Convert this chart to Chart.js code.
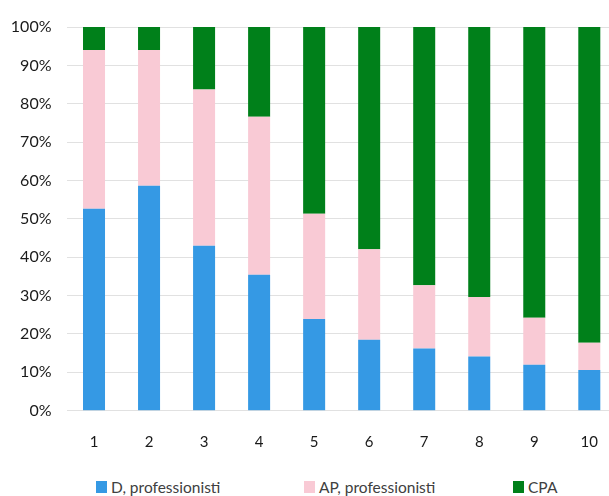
<!DOCTYPE html>
<html>
<head>
<meta charset="utf-8">
<script src="https://cdn.jsdelivr.net/npm/chart.js@4/dist/chart.umd.min.js"></script>
<style>
  html, body { margin: 0; padding: 0; background: #fff; overflow: hidden; width: 609px; height: 496px; }
  #wrap { position: relative; width: 609px; height: 496px; overflow: hidden; }
  #c { position: absolute; left: 0; top: 0; }
  #legend { position: absolute; top: 478px; left: 96px; font-family: Lato, "Open Sans", sans-serif; font-size: 15.5px; color: #404040; white-space: nowrap; }
  #legend span.item { position: absolute; top: 0; display: flex; align-items: center; }
  #legend i { display: inline-block; width: 11px; height: 12px; margin-right: 4px; }
</style>
</head>
<body>
<div id="wrap">
  <canvas id="c" width="620" height="470"></canvas>
  <div id="legend"></div>
</div>
<script>
// Categories along the x axis
const categories = ['1', '2', '3', '4', '5', '6', '7', '8', '9', '10'];

// Shares per category (percent)
const dProfessionisti  = [52.6, 58.6, 43.0, 35.4, 23.9, 18.5, 16.2, 14.1, 12.0, 10.6];
const apProfessionisti = [41.4, 35.4, 40.7, 41.2, 27.4, 23.6, 16.5, 15.5, 12.2, 7.1];
const cpa              = [6.0, 6.0, 16.3, 23.4, 48.7, 57.9, 67.3, 70.4, 75.8, 82.3];

const seriesNames = ['D, professionisti', 'AP, professionisti', 'CPA'];
const seriesColors = ['#3599e4', '#f9cad5', '#00801a'];

const yTicks = [0, 10, 20, 30, 40, 50, 60, 70, 80, 90, 100];

const datasets = [dProfessionisti, apProfessionisti, cpa].map((vals, i) => ({
  label: seriesNames[i],
  data: vals,
  backgroundColor: seriesColors[i],
  borderWidth: 0,
  barPercentage: 0.4,
  categoryPercentage: 1.0
}));

new Chart(document.getElementById('c'), {
  type: 'bar',
  data: { labels: categories, datasets },
  options: {
    responsive: false,
    animation: false,
    devicePixelRatio: 1,
    layout: { padding: { top: 27, left: 0, right: 0, bottom: 0 } },
    plugins: { legend: { display: false }, tooltip: { enabled: false } },
    scales: {
      x: {
        stacked: true,
        grid: { display: false, drawTicks: false },
        border: { display: false },
        ticks: {
          color: '#1a1a1a',
          padding: 22,
          font: { family: 'Lato, "Open Sans", sans-serif', size: 15 }
        },
        afterFit(scale) { scale.height = 470 - 410.7; }
      },
      y: {
        stacked: true,
        min: 0,
        max: 100,
        afterBuildTicks(scale) { scale.ticks = yTicks.map(v => ({ value: v })); },
        grid: { color: '#e1e1e1', lineWidth: 1, drawTicks: false },
        border: { display: false },
        ticks: {
          color: '#1a1a1a',
          padding: 15,
          font: { family: 'Lato, "Open Sans", sans-serif', size: 16 },
          callback: v => v + '%'
        },
        afterFit(scale) { scale.width = 66.5; }
      }
    }
  }
});

// Legend row under the chart
const legendOffsets = [0, 208, 417];
const legend = document.getElementById('legend');
seriesNames.forEach((name, i) => {
  const item = document.createElement('span');
  item.className = 'item';
  item.style.left = legendOffsets[i] + 'px';
  const box = document.createElement('i');
  box.style.background = seriesColors[i];
  item.appendChild(box);
  item.appendChild(document.createTextNode(name));
  legend.appendChild(item);
});
</script>
</body>
</html>
